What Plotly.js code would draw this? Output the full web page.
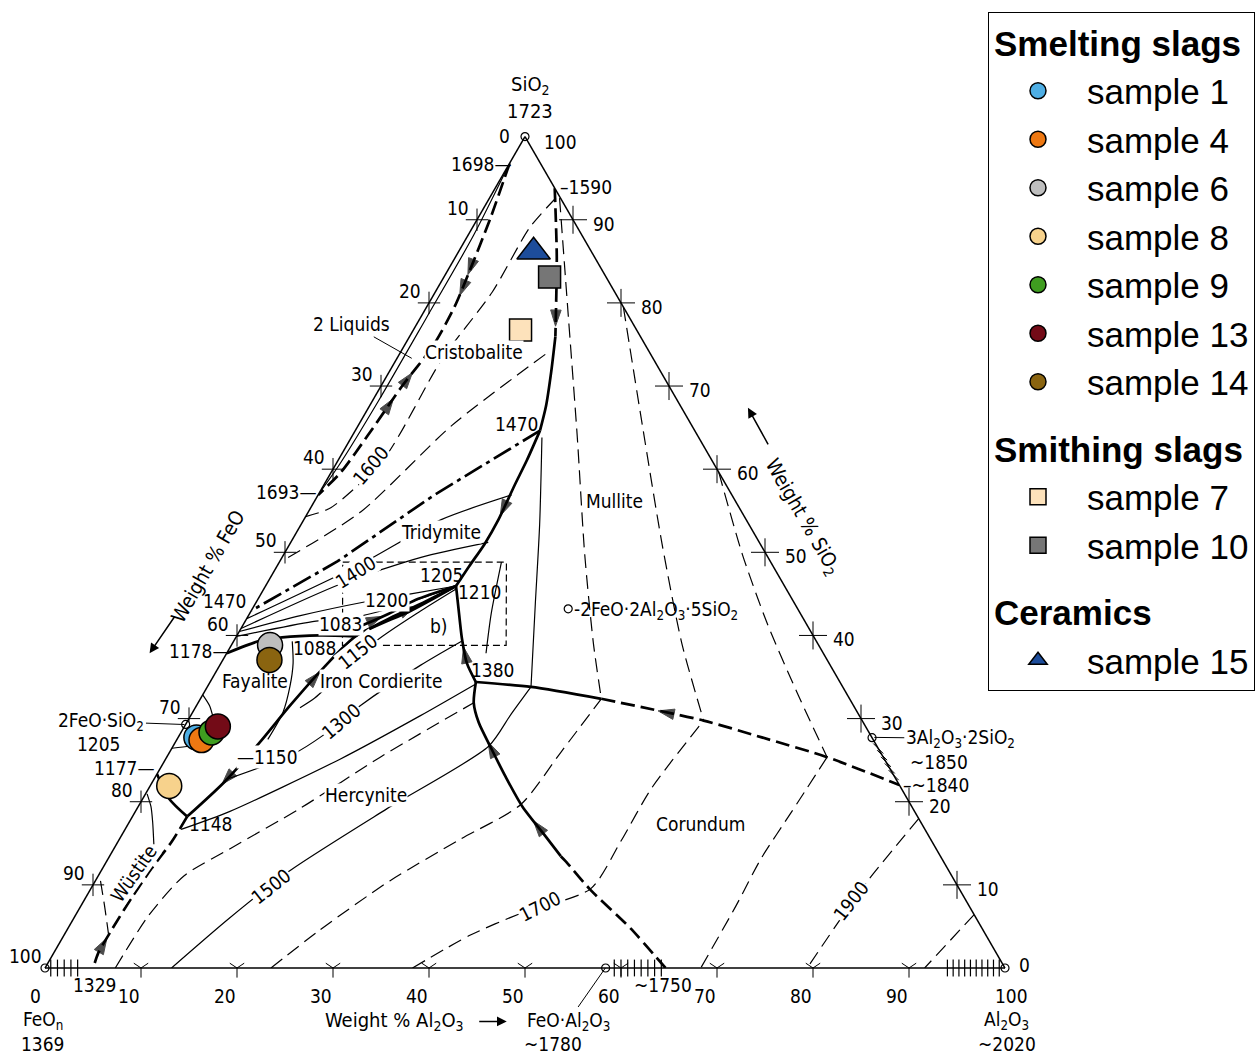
<!DOCTYPE html>
<html><head><meta charset="utf-8">
<script src="https://cdn.plot.ly/plotly-3.0.1.min.js"></script>
<style>html,body{margin:0;padding:0;background:#fff}#chart{width:1258px;height:1057px}</style>
</head><body><div id="chart"></div>
<script>
// ===== DATA: compositions in wt% given as [SiO2, Al2O3]; FeO = 100 - SiO2 - Al2O3 =====
// phase boundaries
const liquidGap        = [[96.8,0],[88.1,0.58],[78.1,0.63],[68.2,0.63],[60.5,0.39],[56.9,0]];
const cristobaliteLiq  = [[96.8,0],[90.2,1.3],[83.9,2.3],[79.5,2.9],[74.8,3.0],[70.0,2.2],[64.1,1.6],[59.6,1.0],[56.9,0]];
const cristMulliteA    = [[93.81,6.19],[85.5,10.56],[75.95,15.19]];
const cristMulliteB    = [[75.95,15.19],[71.8,16.84],[67.6,18.39],[64.64,19.24]];
const tridMullite      = [[64.64,19.24],[61.07,19.66],[58.1,19.88],[53.93,20.27],[50.95,20.29],[48.33,20.02],[45.95,19.84]];
const cordHercynite    = [[45.95,19.84],[42.62,21.82],[39.64,23.61],[36.67,25.61],[34.40,27.68]];
const mullCorundumA    = [[34.40,27.68],[33.81,33.72],[32.38,41.76]];
const mullCorundumB    = [[32.38,41.76],[29.76,53.73],[27.74,60.80],[25.36,68.79],[22.02,77.98]];
const hercCorundumA    = [[34.40,27.68],[31.9,28.71],[29.52,30.42],[26.55,33.15],[22.98,36.50],[19.40,40.04],[15.83,44.23],[13.45,47.0]];
const hercCorundumB    = [[13.45,47.0],[12.86,47.79],[9.40,52.12],[4.76,58.62],[0,64.64]];
const fayHercynite     = [[45.95,19.84],[42.98,16.62],[39.88,12.41],[36.07,10.95],[31.55,9.74],[27.14,8.80],[22.38,7.50],[18.21,5.70]];
const fayTridymite     = [[37.86,0],[39.29,2.55],[39.76,4.82],[40.0,8.68],[39.9,12.3]];
const bundleLow        = [[39.9,12.3],[42.14,14.94],[43.81,17.25],[45.95,19.84]];
const bundleHigh       = [[40.48,10.53],[41.07,12.12],[42.62,14.50],[44.29,16.49],[45.95,19.84]];
const fayWustite       = [[18.21,5.70],[20.36,2.75],[23.33,0]];
const wustHercynite    = [[18.21,5.70],[15.24,5.61],[12.02,5.12],[8.45,4.80],[4.52,4.65],[1.79,4.65],[0,5.02]];
const tridCristInv     = [[64.64,19.24],[56.9,12.10],[48.93,6.03],[42.98,0]];
// isotherms and field lines
const iso1600          = [[92.62,6.90],[89.05,5.96],[81.31,5.94],[73.21,4.73],[61.31,4.69],[55.36,2.09],[54.3,0]];
const cristIso2        = [[73.81,15.21],[65.24,9.74],[54.88,5.47],[49.05,0.31]];
const iso1400          = [[40.83,0],[46.19,7.70],[49.40,14.47],[51.19,20.58]];
const tridIso2         = [[42.02,0],[48.57,8.61],[53.93,14.31],[56.90,20.16]];
const iso1200          = [[40.48,0],[42.38,5.41],[44.05,11.38],[45.0,15.62],[45.95,19.84]];
const iso1083          = [[39.88,0],[41.67,7.02],[42.38,11.89],[44.05,16.09],[45.95,19.84]];
const cordIso1150      = [[31.31,10.91],[32.5,11.88],[39.29,14.79],[42.98,17.67],[45.6,20.02]];
const mulliteThin      = [[48.81,23.14],[42.62,25.17],[37.86,27.01]];
const mulliteSolid     = [[63.81,19.86],[53.33,24.86],[43.81,29.17],[33.81,33.72]];
const mulliteIso1      = [[92.6,7.3],[79.52,14.68],[64.05,23.41],[49.76,31.34],[39.05,37.60],[32.38,41.76]];
const mulliteIso2      = [[79.5,20.5],[65.24,29.61],[50.95,38.81],[39.05,46.81],[29.76,53.73]];
const mulliteIso3      = [[59.64,40.36],[49.76,47.76],[41.43,54.52],[33.10,61.80],[25.36,68.79]];
const hercIso1300      = [[22.74,7.64],[25.71,12.96],[27.98,14.97],[31.55,17.06],[36.43,20.92],[39.40,23.83]];
const hercIso2         = [[16.67,5.84],[18.81,9.80],[25.12,18.17],[30.36,23.93],[34.17,27.79]];
const hercIso3         = [[0,7.32],[6.31,7.64],[11.07,8.93],[14.29,12.04],[19.17,16.95],[25.36,22.24],[31.9,28.71]];
const iso1500          = [[0,13.18],[5.95,16.19],[11.67,19.62],[19.17,26.05],[26.67,32.88],[30.48,33.28],[33.81,33.72]];
const hercIso4         = [[0,23.54],[4.52,26.31],[10.48,30.67],[15.48,35.51],[19.64,39.72],[25.95,40.76],[32.38,41.76]];
const iso1700          = [[0,38.28],[3.93,42.29],[6.55,46.22],[9.52,52.07],[15.24,52.36],[21.55,52.36],[29.76,53.73]];
const corIso1          = [[25.36,68.79],[18.81,68.38],[13.21,68.01],[7.5,68.24],[0,68.31]];
const iso1900          = [[17.98,82.02],[10.48,80.46],[6.43,79.97],[0,79.39]];
const corIso3          = [[6.43,93.57],[0,91.63]];
const wustIso1         = [[20.95,0.16],[19.40,1.34],[17.62,2.4],[14.88,3.90]];
const wustIso2         = [[10.48,0.54],[7.5,2.45],[4.17,4.52]];
const fayArc1          = [[32.86,0],[31.55,1.37],[30.06,2.5]];
const fayArc2          = [[26.43,0],[26.67,1.71],[26.79,3.43]];
const fayCurve         = [[39.29,6.11],[36.67,7.51],[33.93,8.56],[30.71,9.42],[27.5,9.46]];
const detailBox        = [[48.81,6.61],[48.81,23.66],[38.81,28.63],[38.81,11.58],[48.81,6.61]];
// direction arrows on the boundaries: pairs [from, to]
const boundaryArrows = [
  [[84.8,2.10],[83.4,2.35]], [[82.3,2.55],[80.9,2.75]],
  [[70.0,2.20],[71.6,2.47]], [[67.0,1.90],[68.5,2.05]],
  [[78.8,13.81],[77.2,14.58]],
  [[56.0,20.07],[54.4,20.22]],
  [[37.0,25.39],[38.6,24.30]],
  [[25.6,34.04],[27.2,32.55]], [[16.3,43.68],[17.7,42.03]],
  [[30.31,51.2],[30.93,48.4]],
  [[34.0,10.40],[35.6,10.83]], [[23.6,7.83],[22.1,7.38]],
  [[1.9,4.65],[3.6,4.65]],
  [[41.5,12.78],[42.3,14.0]], [[42.6,15.58],[43.5,16.82]]
];
// compounds (small circles)
const compoundSiO2  = [100, 0, 0, 29.3, 0, 27.7, 43.2];
const compoundAl2O3 = [0, 0, 100, 0, 58.4, 72.3, 32.9];
// solid-solution hatches
const feoHatchAl2O3   = [0.6,1.3,2.0,2.7,3.4];
const hercHatchAl2O3  = [59.3,60.0,60.7,61.4,62.1,62.8,63.5,64.2];
const aluHatchAl2O3   = [94.0,94.6,95.2,95.8,96.4,97.0,97.6,98.2,98.8,99.4];
const mullHatchSiO2   = [26.4,25.6,24.8,24.0,23.2];
// samples
const sampleNames  = ['sample 1','sample 4','sample 6','sample 8','sample 9','sample 13','sample 14','sample 7','sample 10','sample 15'];
const sampleGroups = ['Smelting slags','Smelting slags','Smelting slags','Smelting slags','Smelting slags','Smelting slags','Smelting slags','Smithing slags','Smithing slags','Ceramics'];
const sampleSiO2   = [27.74,27.42,38.85,21.90,28.33,29.05,37.06,76.75,83.10,86.15];
const sampleAl2O3  = [1.90,2.59,4.02,1.99,3.18,3.48,4.85,11.16,11.01,7.82];
// axis ticks (wt%)
const tickVals  = [0,10,20,30,40,50,60,70,80,90,100];

// ===== STYLES =====
const FONT = 'DejaVu Sans Condensed, DejaVu Sans, sans-serif';
const sampleColors  = ['#4eaee4','#ee7812','#bebebe','#f7d28c','#3f9d20','#730b17','#8a6410','#fde2bb','#767676','#1d4d9b'];
const sampleSymbols = ['circle','circle','circle','circle','circle','circle','circle','square','square','triangle-up'];
const sampleSizes   = [25,25,25,25,25,25,25,22,22,29];
const TK = 2.7, TN = 1.2;
const S_thick  = {color:'black', width:TK};
const S_thickD = {color:'black', width:TK, dash:'14px,6px'};
const S_thin   = {color:'black', width:TN};
const S_thinD  = {color:'black', width:TN, dash:'14px,7px'};
const S_dd     = {color:'black', width:TK, dash:'20px,5px,4px,5px'};
const S_box    = {color:'black', width:TN, dash:'7px,4px'};

function tern(pairs){
  return {a: pairs.map(p=>p[0]), c: pairs.map(p=>p[1]), b: pairs.map(p=>Math.max(0, 100-p[0]-p[1]))};
}
function curve(pairs, line, shape){
  return Object.assign({type:'scatterternary', mode:'lines', line:Object.assign({shape: shape||'spline', smoothing:0.7}, line),
    showlegend:false, hoverinfo:'skip'}, tern(pairs));
}
function markerSet(pairs, marker){
  return Object.assign({type:'scatterternary', mode:'markers', showlegend:false, hoverinfo:'skip', cliponaxis:false, marker:marker}, tern(pairs));
}

const traces = [
  curve(liquidGap, S_thin), curve(cristobaliteLiq, S_thickD),
  curve(cristMulliteA, S_thickD), curve(cristMulliteB, S_thick), curve(tridMullite, S_thick),
  curve(cordHercynite, S_thick), curve(mullCorundumA, S_thick), curve(mullCorundumB, S_thickD),
  curve(hercCorundumA, S_thick), curve(hercCorundumB, S_thickD), curve(fayHercynite, S_thick),
  curve(fayTridymite, S_thick), curve(bundleLow, S_thick), curve(bundleHigh, S_thick),
  curve(fayWustite, S_thick), curve(wustHercynite, S_thickD), curve(tridCristInv, S_dd, 'linear'),
  curve(iso1600, S_thinD), curve(cristIso2, S_thinD), curve(iso1400, S_thin), curve(tridIso2, S_thin),
  curve(iso1200, S_thin), curve(iso1083, S_thin), curve(cordIso1150, S_thin), curve(mulliteThin, S_thin),
  curve(mulliteSolid, S_thin), curve(mulliteIso1, S_thinD), curve(mulliteIso2, S_thinD), curve(mulliteIso3, S_thinD),
  curve(hercIso1300, S_thin), curve(hercIso2, S_thin), curve(hercIso3, S_thinD), curve(iso1500, S_thin),
  curve(hercIso4, S_thinD), curve(iso1700, S_thinD), curve(corIso1, S_thinD), curve(iso1900, S_thinD),
  curve(corIso3, S_thinD, 'linear'), curve(wustIso1, S_thin), curve(wustIso2, S_thinD),
  curve(fayArc1, S_thin), curve(fayArc2, S_thin), curve(fayCurve, S_thin), curve(detailBox, S_box, 'linear')
];

// tick crosses on the three edges
const inner = tickVals.filter(v => v > 0 && v < 100);
traces.push(markerSet(inner.map(v=>[100-v,0]), {symbol:'cross-thin', size:16, line:{width:1, color:'black'}}));
traces.push(markerSet(inner.map(v=>[v,100-v]), {symbol:'cross-thin', size:20, line:{width:1, color:'black'}}));
traces.push(markerSet(inner.map(v=>[0,v]), {symbol:'y-down', size:12, line:{width:1, color:'black'}}));

// arrows
(function(){
  const pts = [], sizes = [];
  boundaryArrows.forEach(pr => { pts.push(pr[0], pr[1]); sizes.push(0, 17); });
  traces.push(markerSet(pts, {symbol:'arrow', size:sizes, color:'black', angleref:'previous', line:{width:1, color:'black'}}));
})();

// hatches
traces.push(markerSet(feoHatchAl2O3.concat(hercHatchAl2O3, aluHatchAl2O3).map(v=>[0,v]),
  {symbol:'line-ns', size:12, line:{width:1.2, color:'black'}}));
traces.push(markerSet(mullHatchSiO2.map(v=>[v,100-v]), {symbol:'line-nw', size:10, line:{width:1, color:'black'}}));
// compounds
traces.push(markerSet(compoundSiO2.map((s,i)=>[s, compoundAl2O3[i]]),
  {symbol:'circle', size:8, color:'white', line:{width:1.2, color:'black'}}));

// samples
sampleNames.forEach((nm,i)=>{
  const g = sampleGroups[i];
  traces.push(Object.assign({type:'scatterternary', mode:'markers', name:nm, legendgroup:g,
    legendgrouptitle:{text:'<b>'+g+'</b>', font:{family:'Liberation Sans, Arial, sans-serif', size:35, color:'black'}},
    hoverinfo:'name', cliponaxis:false,
    marker:{symbol:sampleSymbols[i], size:sampleSizes[i], color:sampleColors[i], line:{width:1.5, color:'black'}}},
    tern([[sampleSiO2[i], sampleAl2O3[i]]])));
});

// ===== LABELS (positions in picture pixels, mapped onto the ternary frame) =====
const W = 1258, H = 1057;
const TX0 = 45, TW = 960, TH = TW*Math.sqrt(3)/2, TBASE = 968;
function toPaper(px,py){
  const S=(968-py)/840, A=(px-47-475*S)/956;
  const X=TX0+TW*A+TW/2*S, Y=TBASE-TH*S;
  return [X/W, 1-Y/H];
}
function lab(text, px, py, o){
  const p = toPaper(px,py);
  return Object.assign({text:text, x:p[0], y:p[1], xref:'paper', yref:'paper', showarrow:false,
    xanchor:'center', yanchor:'middle', font:{family:FONT, size:19, color:'black'}}, o||{});
}
function leader(text, px, py, tx, ty, o){
  const p = toPaper(tx,ty);
  return Object.assign({text:text, x:p[0], y:p[1], xref:'paper', yref:'paper', showarrow:true, arrowhead:0,
    arrowwidth:1, arrowcolor:'black', standoff:0, ax:px-tx, ay:py-ty,
    font:{family:FONT, size:19, color:'black'}}, o||{});
}
function arrow(tipx, tipy, tailx, taily){
  const p = toPaper(tipx,tipy);
  return {text:'', x:p[0], y:p[1], xref:'paper', yref:'paper', showarrow:true, arrowhead:2, arrowsize:1.3,
    arrowwidth:1.5, arrowcolor:'black', ax:tailx-tipx, ay:taily-tipy};
}
const WB = {bgcolor:'white', borderpad:0};
const F20 = {font:{family:FONT,size:20,color:'black'}};

// axis tick labels: tick position on each edge (from the tick value) plus a label offset
const axisLabels = [];
tickVals.forEach(v=>{
  // left edge: wt% FeO
  const sL = 100 - v, txL = 47 + 4.75*sL, tyL = 968 - 8.4*sL;
  const oL = v === 0 ? [-20,-1] : [-19,-12];
  axisLabels.push(lab(String(v), txL+oL[0], tyL+oL[1]));
  // right edge: wt% SiO2
  const txR = 1003 - 4.81*v, tyR = 968 - 8.4*v;
  const oR = v === 0 ? [19,-3] : (v === 100 ? [35,5] : [31,4]);
  axisLabels.push(lab(String(v), txR+oR[0], tyR+oR[1]));
  // bottom edge: wt% Al2O3
  const txB = 47 + 9.56*v;
  const oB = v === 0 ? -9 : (v === 100 ? 7 : -12);
  axisLabels.push(lab(String(v), txB+oB, 996));
});

const annotations = axisLabels.concat([
  lab('SiO<sub>2</sub>',527,76,F20), lab('1723',527,102,F20),
  lab('FeO<sub>n</sub>',45,1021), lab('1369',45,1045),
  lab('Al<sub>2</sub>O<sub>3</sub>',1005,1021), lab('~2020',1005,1045),
  leader('FeO·Al<sub>2</sub>O<sub>3</sub>',568,1021,605,968), lab('~1780',553,1045),
  lab('Weight % Al<sub>2</sub>O<sub>3</sub>',395,1022, F20), arrow(507,1022,478,1022),
  lab('1329',97,985), lab('~1750',662,985),
  lab('1698—',511,156,{xanchor:'right'}),
  leader('2 Liquids',350,318,410,352),
  lab('1693—',318,487,{xanchor:'right'}),
  lab('1470',225,597), lab('1178—',232,648,{xanchor:'right'}),
  leader('2FeO·SiO<sub>2</sub>',102,719,185,722), lab('1205',100,742),
  lab('1177—',158,766,{xanchor:'right'}),
  lab('Weight % FeO',208,562,{textangle:-60, font:{family:FONT,size:20,color:'black'}}), arrow(150,650,176,612),
  lab('Wüstite',135,872,Object.assign({textangle:-55},WB)),
  lab('Cristobalite',472,346,WB), lab('1600',370,460,Object.assign({textangle:-50},WB)),
  lab('1470',515,418), lab('Tridymite',440,527,WB), lab('1400',355,568,Object.assign({textangle:-32},WB)),
  lab('1205',441,571), lab('1210',479,588), lab('1200',386,596,WB), lab('1083',341,620,WB), lab('1088',315,645),
  lab('b)',438,622), lab('1150',358,648,Object.assign({textangle:-38},WB)),
  lab('Fayalite',255,678), lab('Iron Cordierite',381,678,WB), lab('1380',492,667),
  lab('—1150',268,755,WB), lab('1300',341,718,Object.assign({textangle:-40},WB)),
  lab('1148',212,823), lab('Hercynite',366,793,WB), lab('1500',272,885,Object.assign({textangle:-38},WB)),
  lab('1700',540,905,Object.assign({textangle:-27},WB)), lab('Corundum',699,823), lab('Mullite',612,496,WB),
  lab('-2FeO·2Al<sub>2</sub>O<sub>3</sub>·5SiO<sub>2</sub>',571,607,{xanchor:'left'}),
  lab('–1590',555,179,{xanchor:'left'}),
  lab('1900',849,900,Object.assign({textangle:-52},WB)),
  leader('3Al<sub>2</sub>O<sub>3</sub>·2SiO<sub>2</sub>',958,736,872,735),
  lab('~1850',937,760), lab('–~1840',899,783,{xanchor:'left'}),
  lab('Weight % SiO<sub>2</sub>',800,512,{textangle:60, font:{family:FONT,size:20,color:'black'}}), arrow(745,402,766,440)
]);

const axisCommon = {ticks:'', showticklabels:false, showgrid:false, showline:true, linecolor:'black', linewidth:1.5, title:{text:''}};

const layout = {
  width:W, height:H, margin:{l:0,r:0,t:0,b:0}, paper_bgcolor:'white', hovermode:false,
  ternary:{sum:100, bgcolor:'white', domain:{x:[45/1258,1005/1258], y:[0.08367,0.87127]},
    aaxis:Object.assign({}, axisCommon), baxis:Object.assign({}, axisCommon), caxis:Object.assign({}, axisCommon)},
  legend:{x:988/1258, y:1-12/1057, xanchor:'left', yanchor:'top', bgcolor:'white', bordercolor:'black', borderwidth:1,
    font:{family:'Liberation Sans, Arial, sans-serif', size:35, color:'black'}, tracegroupgap:18, itemwidth:88,
    traceorder:'grouped'},
  annotations:annotations
};
Plotly.newPlot('chart', traces, layout, {displayModeBar:false, staticPlot:true});
</script></body></html>
